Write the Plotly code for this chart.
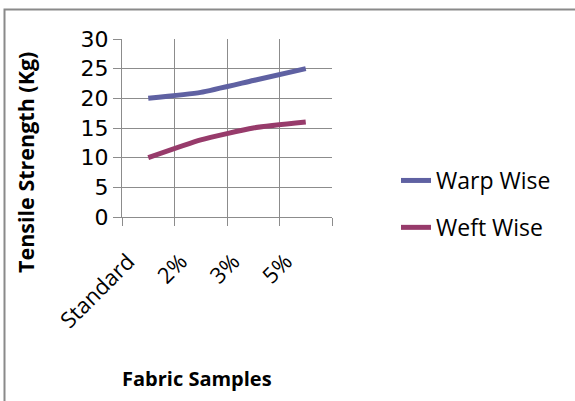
import plotly.graph_objects as go

categories = ["Standard", "2%", "3%", "5%"]
warp_wise = [20, 21, 23, 25]
weft_wise = [10, 13, 15, 16]
series_names = ["Warp Wise", "Weft Wise"]
x_title = "Fabric Samples"
y_title = "Tensile Strength (Kg)"

FONT = "'Open Sans', sans-serif"
GRID = "#8c8c8c"

fig = go.Figure()
fig.add_trace(go.Scatter(x=categories, y=warp_wise, name=series_names[0], mode="lines",
                         line=dict(color="#5f61a2", width=5, shape="spline", smoothing=0.5),
                         legendgroup="a"))
fig.add_trace(go.Scatter(x=categories, y=weft_wise, name=series_names[1], mode="lines",
                         line=dict(color="#973b6b", width=5, shape="spline", smoothing=0.5),
                         legendgroup="b"))

fig.update_layout(
    width=575, height=401,
    margin=dict(l=122, r=243, t=39, b=184),
    paper_bgcolor="white", plot_bgcolor="white",
    font=dict(family=FONT, color="black", size=20),
    showlegend=True,
    legend=dict(xref="container", yref="container", x=396 / 575, y=1 - 159 / 401,
                xanchor="left", yanchor="top", font=dict(size=23, family=FONT),
                tracegroupgap=14, traceorder="grouped", bgcolor="rgba(0,0,0,0)"),
    xaxis=dict(type="category", range=[-0.5, 3.5], tickson="boundaries",
               showgrid=True, gridcolor=GRID, gridwidth=1,
               showline=True, linecolor=GRID, linewidth=1,
               ticks="outside", ticklen=8, tickcolor=GRID,
               ticklabelstandoff=22, ticklabelshift=-20,
               tickangle=-45, tickfont=dict(size=22, family=FONT), zeroline=False),
    yaxis=dict(range=[0, 30], dtick=5, showgrid=True, gridcolor=GRID, gridwidth=1,
               showline=True, linecolor=GRID, linewidth=1,
               ticks="outside", ticklen=8, tickcolor=GRID,
               tickfont=dict(size=22, family="'DejaVu Sans', sans-serif"), zeroline=False),
    shapes=[dict(type="rect", xref="paper", yref="paper",
                 x0=(4.5 - 122) / 210, x1=(590 - 122) / 210,
                 y0=1 - (420 - 39) / 178, y1=1 - (9.5 - 39) / 178,
                 line=dict(color="#8a8a8a", width=2), fillcolor="rgba(0,0,0,0)", layer="below")],
    annotations=[
        dict(text="<b>%s</b>" % x_title, xref="paper", yref="paper",
             x=(197 - 122) / 210, y=1 - (378 - 39) / 178, xanchor="center", yanchor="middle",
             showarrow=False, font=dict(size=20, family=FONT)),
        dict(text="<b>%s</b>" % y_title, xref="paper", yref="paper", textangle=-90,
             x=(25 - 122) / 210, y=1 - (163 - 39) / 178, xanchor="center", yanchor="middle",
             showarrow=False, font=dict(size=21.5, family=FONT)),
    ],
)

fig.write_html("out.html")
